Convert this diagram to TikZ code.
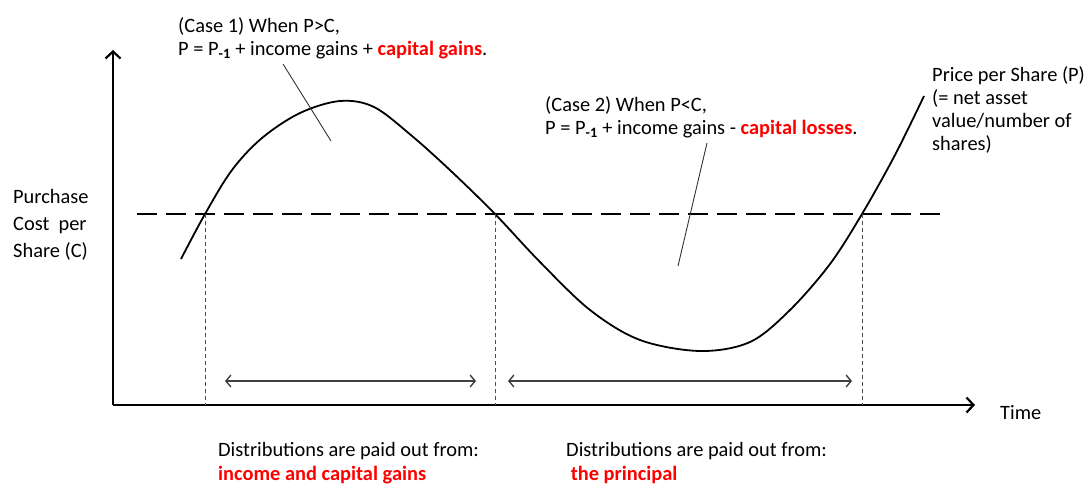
\documentclass[tikz,border=0pt]{standalone}
\usepackage{fontspec}
\setmainfont{Carlito}
\usetikzlibrary{arrows.meta}

\begin{document}
\begin{tikzpicture}[x=1pt, y=-1pt,
  lbl/.style={anchor=west, align=left, inner sep=0pt, font=\fontsize{20.4}{23}\selectfont},
  axis/.style={line width=2.2pt, -{Straight Barb[length=7pt, width=15pt]}},
  span/.style={line width=1.4pt, black!75, {Straight Barb[length=5pt, width=12pt]}-{Straight Barb[length=5pt, width=12pt]}},
  costline/.style={line width=2.6pt, dash pattern=on 20pt off 9pt},
  guide/.style={line width=0.8pt, black!70, dash pattern=on 4pt off 3pt},
  pointer/.style={line width=0.9pt, black!80}
]
\useasboundingbox (0,0) rectangle (1086,486);
% axes
\coordinate (origin) at (113,405);
\draw[axis] (origin) -- (113,50);
\draw[axis] (origin) -- (975,405);
% purchase cost level
\coordinate (costL) at (137,214);
\coordinate (costR) at (948,214);
\draw[costline] (costL) -- (costR);
% crossings of price and cost
\coordinate (x1) at (205,214);
\coordinate (x2) at (495,214);
\coordinate (x3) at (862,214);
% price curve
\draw[line width=1.8pt] plot[smooth, tension=0.55] coordinates {
  (181,259) (x1) (232,170) (262,138) (300,113) (340,101) (374,107)
  (412,136) (452,172) (x2) (540,262) (590,310) (640,340) (700,351)
  (750,342) (790,310) (830,264) (x3) (895,155) (924,96)};
% guides down to the time axis
\foreach \c in {x1,x2,x3}
  \draw[guide] (\c) -- (\c |- origin);
% distribution spans
\coordinate (s1a) at (225,381);
\coordinate (s1b) at (476,381);
\coordinate (s2a) at (508,381);
\coordinate (s2b) at (852,381);
\draw[span] (s1a) -- (s1b);
\draw[span] (s2a) -- (s2b);
% labels
\node[lbl] (case1) at (178,38.5) {(Case 1) When P>C,\\P = P\textsubscript{\textbf{-1}} + income gains + \textcolor{red}{\textbf{capital gains}}.};
\node[lbl] (case2) at (545,117.5) {(Case 2) When P<C,\\P = P\textsubscript{\textbf{-1}} + income gains - \textcolor{red}{\textbf{capital losses}}.};
\node[lbl] (price) at (932,110) {Price per Share (P)\\(= net asset\\value/number of\\shares)};
\node[lbl, font=\fontsize{20.4}{27}\selectfont] (cost) at (13,225) {Purchase\\Cost~~per\\Share (C)};
\node[lbl] (time) at (1000,413) {Time};
\node[lbl, font=\fontsize{20.4}{24}\selectfont] (dist1) at (218,463) {Distributions are paid out from:\\\textcolor{red}{\textbf{income and capital gains}}};
\node[lbl, font=\fontsize{20.4}{24}\selectfont] (dist2) at (566,463) {Distributions are paid out from:\\\textcolor{red}{\textbf{~the principal}}};
% pointers
\coordinate (p1a) at (283,64);
\coordinate (p1b) at (331,141);
\coordinate (p2a) at (707,143);
\coordinate (p2b) at (678,266);
\draw[pointer] (p1a) -- (p1b);
\draw[pointer] (p2a) -- (p2b);
\end{tikzpicture}
\end{document}
